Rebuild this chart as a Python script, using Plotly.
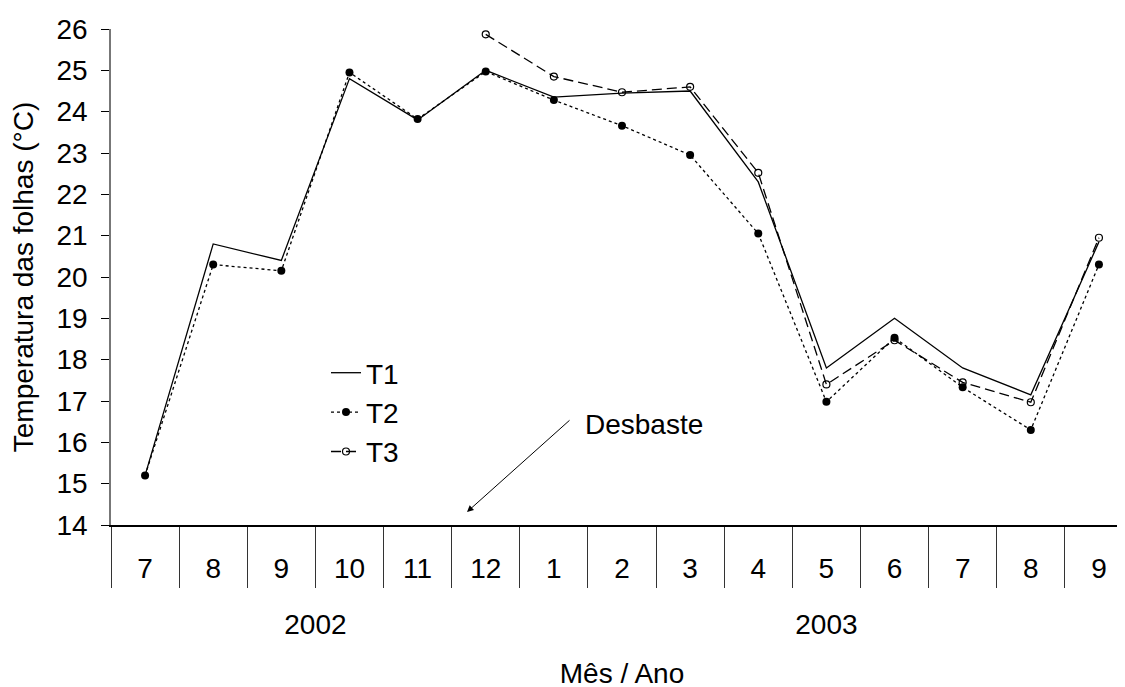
import plotly.graph_objects as go

years = ["2002", "2003"]
year_months = [["7", "8", "9", "10", "11", "12"], ["1", "2", "3", "4", "5", "6", "7", "8", "9"]]
months = [m for ms in year_months for m in ms]

t1 = [15.2, 20.8, 20.4, 24.8, 23.8, 25.0, 24.35, 24.45, 24.5, 22.3, 17.8, 19.0, 17.8, 17.15, 20.85]
t2 = [15.2, 20.3, 20.15, 24.95, 23.82, 24.97, 24.28, 23.66, 22.95, 21.05, 16.98, 18.53, 17.33, 16.3, 20.3]
t3 = [None, None, None, None, None, 25.87, 24.85, 24.47, 24.6, 22.52, 17.4, 18.47, 17.45, 16.97, 20.95]

# category positions derived from the month list
pos = list(range(len(months)))
bounds = [p - 0.5 for p in pos] + [pos[-1] + 0.5]
year_start = [0]
for ms in year_months[:-1]:
    year_start.append(year_start[-1] + len(ms))
year_bounds = [s - 0.5 for s in year_start] + [pos[-1] + 0.5]
year_centers = [s + (len(ms) - 1) / 2 for s, ms in zip(year_start, year_months)]

FONT = "Liberation Sans, Arial, sans-serif"
XR = [-0.5, pos[-1] + 0.5]

W, H = 1125, 687
L, T, B = 103, 21, 10
PB = H - B            # paper bottom (figure px)
PH = PB - T           # paper height
AX = 517              # main x axis (figure px)
YB = 637              # bottom of year dividers (figure px)
PW = W - L
YEAR_Y = 619          # year label centre (figure px)

fig = go.Figure()
fig.add_trace(go.Scatter(x=pos, y=t1, name="T1", mode="lines",
                         line=dict(color="black", width=1.3), legendgroup="a"))
fig.add_trace(go.Scatter(x=pos, y=t2, name="T2", mode="lines+markers",
                         line=dict(color="black", width=1.3, dash="dot"),
                         marker=dict(symbol="circle", size=8, color="black"),
                         legendgroup="b"))
fig.add_trace(go.Scatter(x=pos, y=t3, name="T3", mode="lines+markers",
                         line=dict(color="black", width=1.3, dash="10px,5px"),
                         marker=dict(symbol="circle-open", size=7, color="black",
                                     line=dict(width=1.2, color="black")),
                         legendgroup="c", connectgaps=False))
# year group labels in the band between the month axis and the year dividers' end
fig.add_trace(go.Scatter(x=year_centers, y=[(YB - YEAR_Y) / (YB - AX)] * len(years),
                         text=years, mode="text", xaxis="x3", yaxis="y3",
                         textposition="middle center",
                         textfont=dict(size=28, color="black", family=FONT),
                         showlegend=False, hoverinfo="skip", cliponaxis=False))

fig.update_layout(
    width=W, height=H,
    paper_bgcolor="white", plot_bgcolor="rgba(0,0,0,0)",
    margin=dict(l=L, r=0, t=T, b=B, autoexpand=False),
    font=dict(family=FONT, size=28, color="black"),
    showlegend=True,
    legend=dict(x=215 / PW, y=(PB - 340) / PH, xanchor="left", yanchor="top",
                bgcolor="rgba(0,0,0,0)", font=dict(size=28),
                tracegroupgap=0),
    xaxis=dict(
        range=XR, anchor="y",
        showline=True, linecolor="black", linewidth=1.5,
        tickmode="array", tickvals=pos, ticktext=months, ticks="",
        ticklabelstandoff=18,
        minor=dict(tickmode="array", tickvals=bounds, ticks="outside",
                   ticklen=61, tickcolor="#333", tickwidth=1),
        showgrid=False, zeroline=False,
        tickfont=dict(size=28),
        title=dict(text="Mês / Ano", font=dict(size=28), standoff=80),
    ),
    # year dividers: outside ticks pointing up from the bottom of the group band
    xaxis2=dict(
        range=XR, anchor="y2", side="top",
        showline=False, showgrid=False, zeroline=False,
        tickmode="array", tickvals=year_bounds, showticklabels=False,
        ticks="outside", ticklen=YB - AX, tickcolor="#333", tickwidth=1,
    ),
    xaxis3=dict(
        range=XR, anchor="y3", visible=False,
        showgrid=False, zeroline=False,
    ),
    yaxis=dict(
        domain=[(PB - AX) / PH, 1],
        range=[14, 26], dtick=1,
        showline=True, linecolor="#777", linewidth=1.5,
        ticks="outside", ticklen=8, tickcolor="black", tickwidth=1,
        ticklabelstandoff=8,
        showgrid=False, zeroline=False,
        tickfont=dict(size=28),
        title=dict(text="Temperatura das folhas (°C)", font=dict(size=28), standoff=17),
    ),
    yaxis2=dict(
        domain=[0, (PB - YB) / PH], anchor="x2",
        range=[0, 1],
        showline=False, showgrid=False, zeroline=False,
        showticklabels=False, ticks="",
    ),
    yaxis3=dict(
        domain=[(PB - YB) / PH, (PB - AX) / PH], anchor="x3",
        range=[0, 1], visible=False,
        showgrid=False, zeroline=False,
    ),
    annotations=[
        dict(xref="x domain", yref="y domain", x=(459 - L) / PW, y=(AX - 504) / (AX - T),
             text="", showarrow=True, ax=104, ay=-93, axref="pixel", ayref="pixel",
             arrowhead=2, arrowsize=1.3, arrowwidth=1, arrowcolor="black"),
        dict(xref="x domain", yref="y domain", x=(575 - L) / PW, y=(AX - 416) / (AX - T),
             text="Desbaste", showarrow=False, xanchor="left", yanchor="middle",
             font=dict(size=28)),
    ],
)

fig.write_html("out.html")
